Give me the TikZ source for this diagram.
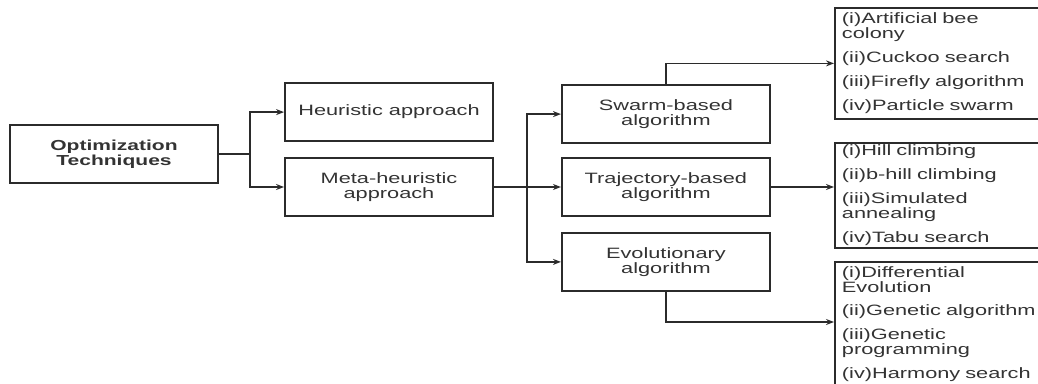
\documentclass[tikz,border=0pt]{standalone}
\usepackage{fontspec}
\setmainfont{Liberation Sans}[FakeStretch=1.45]
\usetikzlibrary{arrows.meta,positioning}
\usepackage{xcolor}
\definecolor{edge}{HTML}{2B2B2B}
\definecolor{ink}{HTML}{333333}

\begin{document}
\begin{tikzpicture}[
      x=1pt, y=1pt,
      node distance=14pt and 66pt,
      box/.style={
        draw=edge, line width=1.9pt, align=center, text=ink,
        minimum width=208pt, minimum height=58pt, font=\fontsize{15}{15.5}\selectfont
      },
      listbox/.style={
        draw=edge, line width=1.9pt, anchor=north west, align=left, text=ink,
        text width=205pt, inner xsep=7pt, inner ysep=5pt, font=\fontsize{15}{13.5}\selectfont
      },
      link/.style={line width=1.5pt, draw=edge},
      arrow/.style={-{Stealth[length=8pt,width=6pt]}, line width=1.5pt, draw=edge}
    ]
    \useasboundingbox (0,0) rectangle (1038,-383);

    \node[box, font=\fontsize{14.5}{15.5}\selectfont\bfseries] (opt) at (114,-154) {Optimization\\Techniques};
    \node[box] (meta) at (389,-187) {Meta-heuristic\\approach};
    \node[box, above=15pt of meta] (heur) {Heuristic approach};
    \node[box, right=67pt of meta] (traj) {Trajectory-based\\algorithm};
    \node[box, above=13pt of traj] (swarm) {Swarm-based\\algorithm};
    \node[box, below=15pt of traj] (evol) {Evolutionary\\algorithm};

    \node[listbox] (swarmlist) at (834,-7) {(i)Artificial bee\\colony\\[9pt](ii)Cuckoo search\\[9pt](iii)Firefly algorithm\\[9pt](iv)Particle swarm};
    \node[listbox, inner ysep=2pt] (trajlist) at (834,-142) {(i)Hill climbing\\[9pt](ii)b-hill climbing\\[9pt](iii)Simulated\\annealing\\[9pt](iv)Tabu search};
    \node[listbox] (evollist) at (834,-261) {(i)Differential\\Evolution\\[9pt](ii)Genetic algorithm\\[9pt](iii)Genetic\\programming\\[9pt](iv)Harmony search\\[14pt]\mbox{}};

    \coordinate (split) at (250,-154);
    \coordinate (bus) at (527,-187);
    \coordinate (evolin) at ([yshift=-61pt]evollist.north west);

    \draw[link] (opt.east) -- (split);
    \draw[arrow] (split) |- (heur.west);
    \draw[arrow] (split) |- (meta.west);
    \draw[arrow] (meta.east) -- (traj.west);
    \draw[arrow] (bus) |- (swarm.west);
    \draw[arrow] (bus) |- (evol.west);
    \draw[arrow] (swarm.north) |- (swarmlist.west);
    \draw[arrow] (traj.east) -- (traj.east -| trajlist.west);
    \draw[arrow] (evol.south) |- (evolin);
  \end{tikzpicture}
\end{document}
